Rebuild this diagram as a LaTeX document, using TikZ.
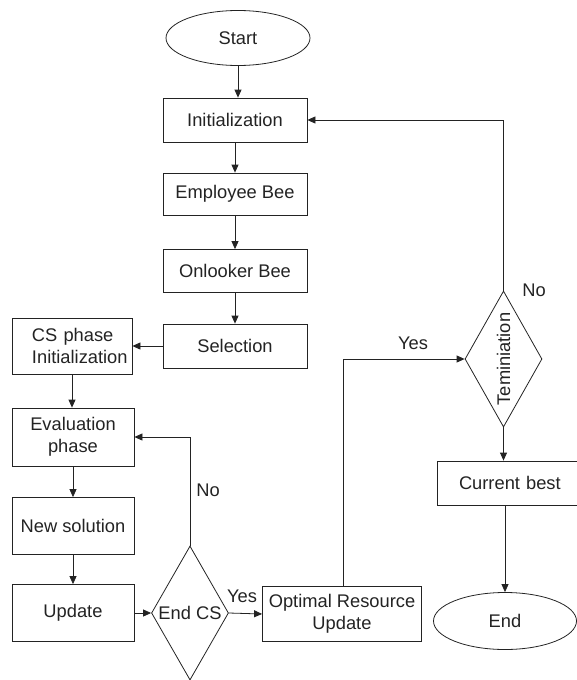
\documentclass[tikz,border=0pt]{standalone}
\usepackage{fontspec}
\setmainfont{Liberation Sans}
\usetikzlibrary{shapes.geometric,arrows.meta}
\definecolor{ink}{RGB}{35,35,35}
\begin{document}
\begin{tikzpicture}[x=1pt,y=-1pt,
  every node/.style={font=\fontsize{18.3}{21.5}\selectfont, text=ink},
  box/.style={draw=ink, line width=0.8pt, rectangle, inner sep=0pt, align=center},
  term/.style={draw=ink, line width=0.8pt, ellipse, inner sep=0pt},
  dia/.style={draw=ink, line width=0.8pt, diamond, inner sep=0pt},
  arr/.style={draw=ink, line width=0.8pt, -{Triangle[length=8pt,width=7pt]}},
  ln/.style={draw=ink, line width=0.8pt}]
\useasboundingbox (0,0) rectangle (576,680);

\node[term, minimum width=144pt, minimum height=55pt] (start) at (238,38) {Start};
\node[box, minimum width=144pt, minimum height=44pt] (init) at (235,120) {Initialization};
\node[box, minimum width=144pt, minimum height=42pt] (emp) at (235,194) {Employee Bee};
\node[box, minimum width=144pt, minimum height=43pt] (onl) at (235,271) {Onlooker Bee};
\node[box, minimum width=144pt, minimum height=44pt] (sel) at (235,346) {Selection};
\node[box, minimum width=120pt, minimum height=56pt, text width=120pt, align=left] (csp) at (72,346) {\hspace*{20pt}CS phase\\\hspace*{20pt}Initialization};
\node[box, minimum width=122pt, minimum height=58pt] (eval) at (73,437) {Evaluation\\phase};
\node[box, minimum width=122pt, minimum height=57pt] (news) at (73,526) {New solution};
\node[box, minimum width=122pt, minimum height=57pt] (upd) at (73,613) {Update};
\node[dia, minimum width=77pt, minimum height=134pt, label={[name=endcst]center:End CS}] (endcs) at (190,613) {};
\node[box, minimum width=159pt, minimum height=55pt] (opt) at (342,614) {Optimal Resource\\Update};
\node[dia, minimum width=77pt, minimum height=136pt, label={[name=termt, rotate=90]center:Teminiation}] (termn) at (503.5,359) {};
\node[box, minimum width=141pt, minimum height=44pt, text width=141pt, align=left] (cur) at (507.5,483) {\hspace*{22pt}Current best};
\node[term, minimum width=143pt, minimum height=57pt] (endn) at (505,621) {End};

\draw[arr] (start.south) -- (start.south |- init.north);
\draw[arr] (init.south) -- (emp.north);
\draw[arr] (emp.south) -- (onl.north);
\draw[arr] (onl.south) -- (sel.north);
\draw[arr] (sel.west) -- (csp.east);
\draw[arr] (csp.south) -- (csp.south |- eval.north);
\draw[arr] (eval.south) -- (news.north);
\draw[arr] (news.south) -- (upd.north);
\draw[arr] (upd.east) -- (endcs.west);
\draw[arr] (endcs.east) -- (opt.west);
\draw[arr] (endcs.north) |- (eval.east);
\draw[arr] ([xshift=1pt]opt.north) |- (termn.west);
\draw[arr] (termn.north) |- (init.east);
\draw[arr] (termn.south) -- (termn.south |- cur.north);
\draw[arr] (endn.north |- cur.south) -- (endn.north);

\node (yes1) at (242,596) {Yes};
\node (no1) at (208,490) {No};
\node (yes2) at (413,343) {Yes};
\node (no2) at (534,290) {No};
\end{tikzpicture}
\end{document}
